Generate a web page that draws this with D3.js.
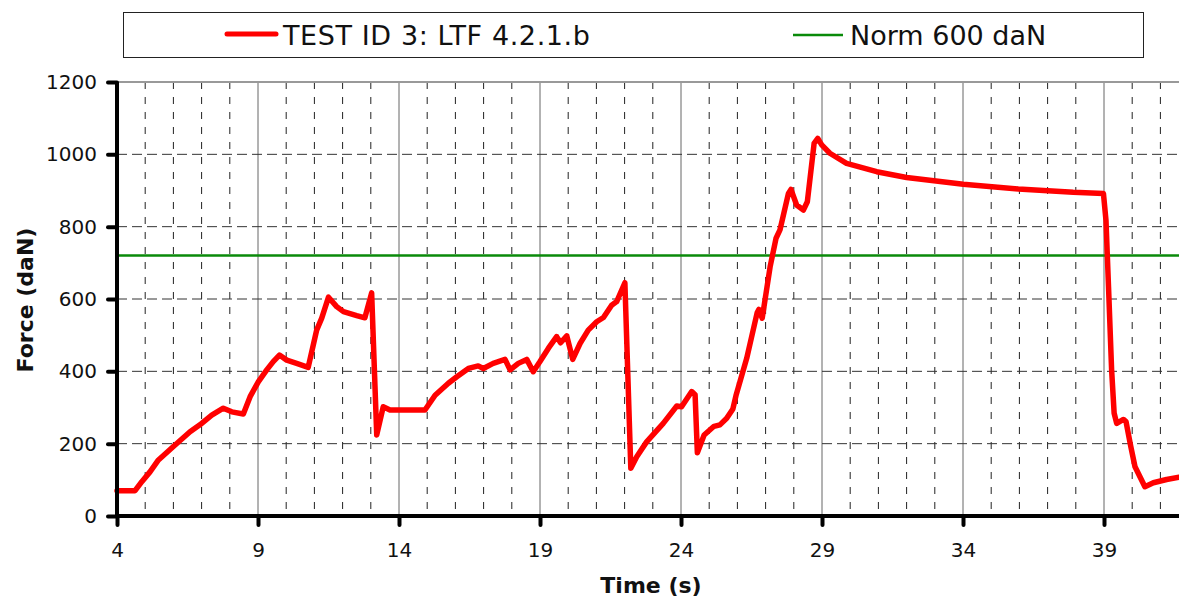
<!DOCTYPE html>
<html>
<head>
<meta charset="utf-8">
<script src="https://cdn.jsdelivr.net/npm/d3@7"></script>
<style>
    body { margin: 0; background: #fff; }
    svg { display: block; font-family: "DejaVu Sans", Verdana, sans-serif; }
</style>
</head>
<body>
<div id="chart"></div>
<script>
// test data
let timeValues = [4.0, 4.64, 4.88, 5.17, 5.47, 6.0, 6.59, 6.94, 7.36, 7.77, 8.07, 8.48, 8.72, 9.01, 9.31, 9.54, 9.76,
    10.02, 10.37, 10.78, 11.08, 11.26, 11.5, 11.79, 12.03, 12.5, 12.79, 13.03, 13.21, 13.44, 13.68, 14.39, 14.92,
    15.28, 15.75, 16.05, 16.46, 16.81, 16.99, 17.34, 17.76, 17.94, 18.23, 18.53, 18.76, 19.0, 19.3, 19.59, 19.73,
    19.95, 20.16, 20.42, 20.71, 21.01, 21.25, 21.54, 21.72, 22.01, 22.22, 22.43, 22.78, 23.37, 23.85, 24.02, 24.38,
    24.5, 24.58, 24.82, 25.17, 25.38, 25.62, 25.84, 25.95, 26.33, 26.7, 26.76, 26.88, 27.16, 27.37, 27.51, 27.81,
    27.9, 28.1, 28.34, 28.48, 28.72, 28.85, 28.99, 29.28, 29.87, 30.94, 32.0, 34.01, 35.96, 37.91, 38.98, 39.07,
    39.16, 39.27, 39.36, 39.45, 39.69, 39.78, 39.95, 40.1, 40.45, 40.75, 41.22, 41.66];
let forceValues = [70, 70, 95, 122, 155, 192, 233, 252, 279, 298, 288, 282, 330, 371, 404, 427, 445,
    431, 422, 411, 514, 547, 605, 579, 565, 554, 548, 617, 224, 302, 293, 293, 293,
    334, 367, 385, 408, 415, 408, 422, 433, 404, 422, 433, 399, 427, 464, 496, 479,
    498, 433, 477, 514, 537, 549, 583, 593, 645, 132, 164, 205, 256, 304, 302, 344,
    335, 175, 224, 248, 252, 270, 296, 333, 436, 562, 571, 547, 689, 768, 791, 892,
    903, 860, 846, 869, 1030, 1044, 1026, 1003, 975, 952, 936, 917, 904, 895, 892, 818,
    634, 404, 284, 256, 267, 261, 192, 136, 81, 92, 101, 107];

let normValue = 720;
let seriesNames = ["TEST ID 3: LTF 4.2.1.b", "Norm 600 daN"];
let xTicks = [4, 9, 14, 19, 24, 29, 34, 39];
let xMinorTicks = d3.range(5, 43, 1).filter(d => (d - 4) % 5 !== 0);
let yTicks = [0, 200, 400, 600, 800, 1000, 1200];

let width = 1179, height = 599;
let margin = {top: 82, left: 117, bottom: 83};

let svg = d3.select("#chart").append("svg")
    .attr("width", width)
    .attr("height", height);

// scales
let x = d3.scaleLinear()
    .domain([4, 42])
    .range([margin.left, margin.left + 38 * 28.2]);
let y = d3.scaleLinear()
    .domain([0, 1200])
    .range([height - margin.bottom, margin.top]);

/* * * * * * * * * * * * * *
*       Grid               *
* * * * * * * * * * * * * */

let grid = svg.append("g");

// minor vertical dashes every second
grid.selectAll(".vminor")
    .data(xMinorTicks)
    .enter().append("line")
    .attr("x1", d => x(d)).attr("x2", d => x(d))
    .attr("y1", y(1200)).attr("y2", y(0))
    .attr("stroke", "#222")
    .attr("stroke-width", 1)
    .attr("stroke-dasharray", "7,8");

// major vertical solid lines
grid.selectAll(".vmajor")
    .data(xTicks.slice(1))
    .enter().append("line")
    .attr("x1", d => x(d)).attr("x2", d => x(d))
    .attr("y1", y(1200)).attr("y2", y(0))
    .attr("stroke", "#666")
    .attr("stroke-width", 1);

// horizontal dashes
grid.selectAll(".hgrid")
    .data(yTicks.slice(1, -1))
    .enter().append("line")
    .attr("x1", x(4)).attr("x2", width)
    .attr("y1", d => y(d)).attr("y2", d => y(d))
    .attr("stroke", "#333")
    .attr("stroke-width", 1)
    .attr("stroke-dasharray", "10,5");

// top border
grid.append("line")
    .attr("x1", x(4)).attr("x2", width)
    .attr("y1", y(1200)).attr("y2", y(1200))
    .attr("stroke", "#999")
    .attr("stroke-width", 2);

/* * * * * * * * * * * * * *
*       Lines              *
* * * * * * * * * * * * * */

svg.append("line")
    .attr("x1", x(4)).attr("x2", width)
    .attr("y1", y(normValue)).attr("y2", y(normValue))
    .attr("stroke", "#0a8a0a")
    .attr("stroke-width", 2.5);

let testData = timeValues.map((t, i) => ({t: t, f: forceValues[i]}));

let line = d3.line()
    .x(d => x(d.t))
    .y(d => y(d.f));

svg.append("path")
    .datum(testData)
    .attr("d", line)
    .attr("fill", "none")
    .attr("stroke", "#ff0000")
    .attr("stroke-width", 5.5)
    .attr("stroke-linejoin", "round")
    .attr("stroke-linecap", "round");

/* * * * * * * * * * * * * *
*       Axes               *
* * * * * * * * * * * * * */

let yAxis = svg.append("g")
    .attr("transform", `translate(${x(4)},0)`)
    .call(d3.axisLeft(y).tickValues(yTicks).tickFormat(d3.format("d")).tickSize(9).tickPadding(11));

let xAxis = svg.append("g")
    .attr("transform", `translate(0,${y(0)})`)
    .call(d3.axisBottom(x).tickValues(xTicks).tickFormat(d3.format("d")).tickSize(9).tickPadding(18));

[yAxis, xAxis].forEach(g => {
    g.select(".domain").remove();
    g.selectAll(".tick line")
        .attr("stroke", "#000")
        .attr("stroke-width", 4)
        .attr("stroke-linecap", "round");
    g.selectAll(".tick text")
        .attr("fill", "#111")
        .style("font-size", "20px")
        .style("font-family", "'DejaVu Sans', Verdana, sans-serif");
});

// thick axis lines
svg.append("line")
    .attr("x1", x(4)).attr("x2", x(4))
    .attr("y1", y(1200)).attr("y2", y(0) + 2)
    .attr("stroke", "#000").attr("stroke-width", 4);
svg.append("line")
    .attr("x1", x(4) - 2).attr("x2", width)
    .attr("y1", y(0)).attr("y2", y(0))
    .attr("stroke", "#000").attr("stroke-width", 4);

// axis titles
svg.append("text")
    .attr("x", 651)
    .attr("y", 593)
    .attr("text-anchor", "middle")
    .attr("font-weight", "bold")
    .attr("font-size", 22)
    .attr("fill", "#111")
    .text("Time (s)");

svg.append("text")
    .attr("transform", "translate(33,300) rotate(-90)")
    .attr("text-anchor", "middle")
    .attr("font-weight", "bold")
    .attr("font-size", 22)
    .attr("fill", "#111")
    .text("Force (daN)");

/* * * * * * * * * * * * * *
*       Legend             *
* * * * * * * * * * * * * */

let legend = svg.append("g");

legend.append("rect")
    .attr("x", 123.5).attr("y", 12.5)
    .attr("width", 1020).attr("height", 45)
    .attr("fill", "#fff")
    .attr("stroke", "#222")
    .attr("stroke-width", 1);

legend.append("line")
    .attr("x1", 227).attr("x2", 276)
    .attr("y1", 34).attr("y2", 34)
    .attr("stroke", "#ff0000")
    .attr("stroke-width", 5)
    .attr("stroke-linecap", "round");

legend.append("text")
    .attr("x", 283).attr("y", 45)
    .attr("font-size", 27)
    .attr("letter-spacing", 0.6)
    .attr("fill", "#111")
    .text(seriesNames[0]);

legend.append("line")
    .attr("x1", 793).attr("x2", 843)
    .attr("y1", 35).attr("y2", 35)
    .attr("stroke", "#0a8a0a")
    .attr("stroke-width", 2.5);

legend.append("text")
    .attr("x", 850).attr("y", 45)
    .attr("font-size", 27)
    .attr("fill", "#111")
    .text(seriesNames[1]);
</script>
</body>
</html>
